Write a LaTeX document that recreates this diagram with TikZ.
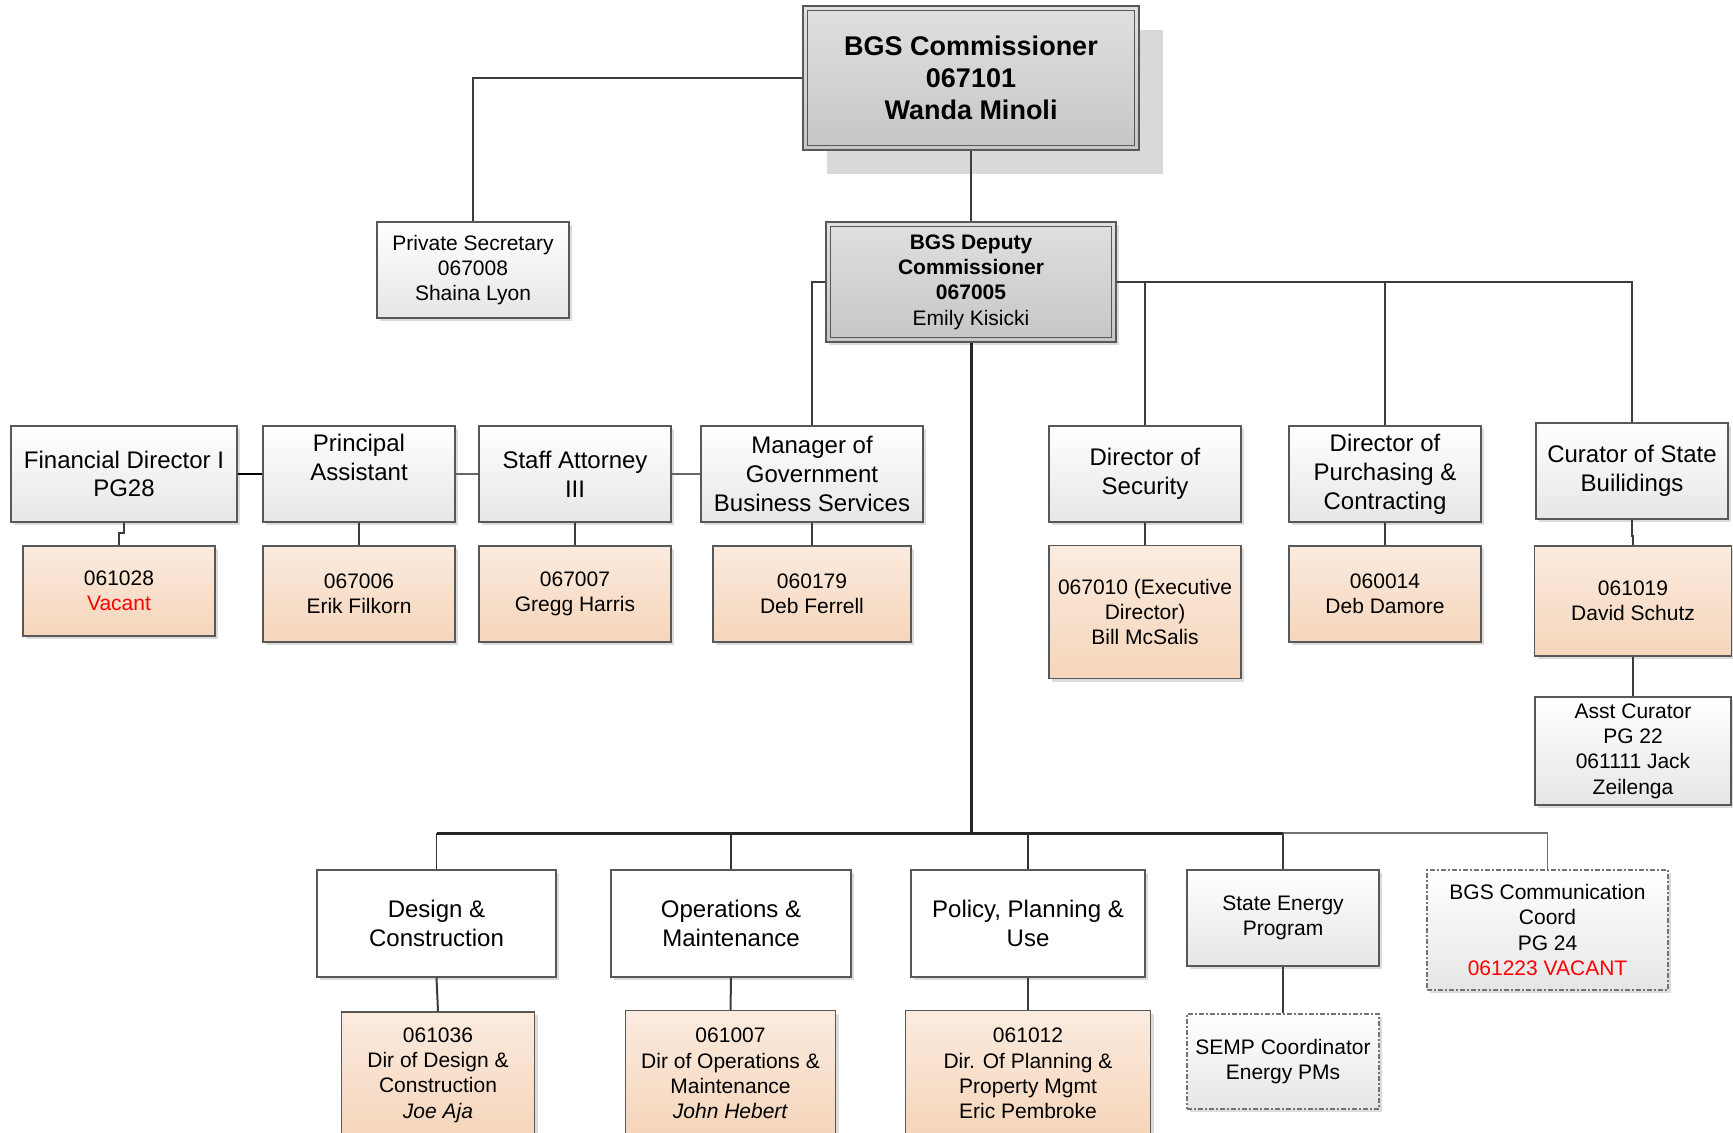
\documentclass[tikz,border=0pt]{standalone}
\usepackage{fontspec}
\setmainfont{Liberation Sans}
\usetikzlibrary{shadows}

\definecolor{lineclr}{HTML}{3C3C3C}
\definecolor{boxedge}{HTML}{585858}
\definecolor{peachtop}{HTML}{FBEBDF}
\definecolor{peachbot}{HTML}{F5D5BA}
\definecolor{greybot}{HTML}{E6E6E6}
\definecolor{headtop}{HTML}{E0E0E0}
\definecolor{headbot}{HTML}{C6C6C6}
\definecolor{bigshade}{HTML}{D9D9D9}
\definecolor{vacred}{HTML}{FF0000}

\tikzset{
  sz/.style 2 args={minimum width=#1*0.5pt, minimum height=#2*0.5pt},
  softshadow/.style={drop shadow={shadow xshift=1.6pt, shadow yshift=-1.6pt, fill=black!30, opacity=.45}},
  base/.style={draw=boxedge, line width=0.7pt, align=center, inner sep=1pt, text=black},
  bigfont/.style={font=\fontsize{12}{14.4}\selectfont},
  smallfont/.style={font=\fontsize{10.5}{12.7}\selectfont},
  posbox/.style={base, softshadow, top color=white, bottom color=greybot, bigfont},
  infobox/.style={base, softshadow, top color=white, bottom color=greybot, smallfont},
  personbox/.style={base, softshadow, top color=peachtop, bottom color=peachbot, smallfont},
  unitbox/.style={base, softshadow, fill=white, bigfont},
  headbox/.style={base, top color=headtop, bottom color=headbot},
  openbox/.style={infobox, draw=black!55, line width=0.6pt,
    dash pattern=on 2.5pt off 1.2pt on 0.6pt off 1.2pt},
  conn/.style={draw=lineclr, line width=1pt},
  thinconn/.style={draw=black!60, line width=0.6pt},
  trunk/.style={draw=black!85, line width=1.5pt},
}

\begin{document}
\begin{tikzpicture}[x=0.5pt,y=-0.5pt]
\useasboundingbox (0,0) rectangle (1733,1133);

% ---- top level ----
\node[headbox, sz={336}{144},
      drop shadow={shadow xshift=12pt, shadow yshift=-12pt, fill=bigshade, opacity=1},
      font=\fontsize{13.5}{16}\selectfont\bfseries] (comm) at (971,78)
  {BGS Commissioner\\067101\\Wanda Minoli};
\draw[boxedge, line width=0.7pt] ([shift={(5,5)}]comm.north west) rectangle ([shift={(-5,-5)}]comm.south east);

\node[infobox, sz={192}{96}] (priv) at (473,270) {Private Secretary\\067008\\Shaina Lyon};

\node[headbox, softshadow, sz={290}{120}, smallfont] (dep) at (971,282)
  {\textbf{BGS Deputy}\\\textbf{Commissioner}\\\textbf{067005}\\Emily Kisicki};
\draw[boxedge, line width=0.7pt] ([shift={(5,5)}]dep.north west) rectangle ([shift={(-5,-5)}]dep.south east);

% ---- directors row ----
\node[posbox, sz={226}{96}] (fin) at (124,474) {Financial Director I\\PG28};
\node[posbox, sz={192}{96}] (pa)  at (359,474) {Principal\\Assistant\\[2pt]};
\node[posbox, sz={192}{96}] (sa)  at (575,474) {Staff Attorney\\III};
\node[posbox, sz={222}{96}] (mgr) at (812,474) {Manager of\\Government\\Business Services};
\node[posbox, sz={192}{96}] (sec) at (1145,474) {Director of\\Security};
\node[posbox, sz={192}{96}] (pur) at (1385,474) {Director of\\Purchasing \&\\Contracting};
\node[posbox, sz={192}{96}] (cur) at (1632,471) {Curator of State\\Builidings};

% ---- incumbents ----
\node[personbox, sz={192}{90}]  (vac)     at (119,591)  {061028\\\textcolor{vacred}{Vacant}};
\node[personbox, sz={192}{96}]  (erik)    at (359,594)  {067006\\Erik Filkorn};
\node[personbox, sz={192}{96}]  (gregg)   at (575,594)  {067007\\Gregg Harris};
\node[personbox, sz={198}{96}]  (ferrell) at (812,594)  {060179\\Deb Ferrell};
\node[personbox, sz={192}{133}] (bill)    at (1145,612) {067010 (Executive\\Director)\\Bill McSalis};
\node[personbox, sz={192}{96}]  (damore)  at (1385,594) {060014\\Deb Damore};
\node[personbox, sz={197}{110}] (schutz)  at (1633,601) {061019\\David Schutz};
\node[infobox,   sz={196}{108}] (asst)    at (1633,751) {Asst Curator\\PG 22\\061111 Jack\\Zeilenga};

% ---- divisions ----
\node[unitbox, sz={239}{107}] (des)  at (436.5,923.5) {Design \&\\Construction};
\node[unitbox, sz={240}{107}] (ops)  at (731,923.5)   {Operations \&\\Maintenance};
\node[unitbox, sz={234}{107}] (pol)  at (1028,923.5)  {Policy, Planning \&\\Use};
\node[infobox, sz={192}{96}]  (sep)  at (1283,918)    {State Energy\\Program};
\node[openbox, sz={241}{120}] (bgsc) at (1547.5,930)  {BGS Communication\\Coord\\PG 24\\\textcolor{vacred}{061223 VACANT}};

\node[personbox, sz={193}{126}] (joe)  at (438,1075)   {061036\\Dir of Design \&\\Construction\\\textit{Joe Aja}};
\node[personbox, sz={210}{126}] (heb)  at (730.5,1073.5) {061007\\Dir of Operations \&\\Maintenance\\\textit{John Hebert}};
\node[personbox, sz={245}{126}] (pem)  at (1028,1073.5)  {061012\\Dir. Of Planning \&\\Property Mgmt\\Eric Pembroke};
\node[openbox,   sz={192}{95}]  (semp) at (1283,1061.5) {SEMP Coordinator\\Energy PMs};

% ---- connectors: top ----
\draw[conn] (comm.west) -| (priv.north);
\draw[conn] (comm.south) -- (dep.north);
\draw[conn] (dep.west) -| (mgr.north);
\draw[conn] (dep.east) -| (cur.north);
\draw[conn] (sec.north |- dep.east) -- (sec.north);
\draw[conn] (pur.north |- dep.east) -- (pur.north);

% staff chain on the left
\draw[conn, draw=black] (fin.east) -- (pa.west);
\draw[thinconn] (pa.east) -- (sa.west);
\draw[thinconn] (sa.east) -- (mgr.west);

% positions to incumbents
\draw[conn] (fin.south) -- ++(0,10) -| (vac.north);
\draw[conn] (pa.south) -- (erik.north);
\draw[conn] (sa.south) -- (gregg.north);
\draw[conn] (mgr.south) -- (ferrell.north);
\draw[conn] (sec.south) -- (bill.north);
\draw[conn] (pur.south) -- (damore.north);
\draw[conn] (cur.south) -- ++(0,16) -| (schutz.north);
\draw[conn] (schutz.south) -- (asst.north);

% ---- connectors: divisions ----
\coordinate (hub) at (971,833);
\draw[trunk] (dep.south) -- (hub);
\draw[trunk] (des.north |- hub) -- (sep.north |- hub);
\draw[thinconn, draw=black!55] (sep.north |- hub) -- (bgsc.north |- hub) -- (bgsc.north);
\draw[thinconn, draw=black!80, line width=0.7pt] (des.north |- hub) -- (des.north);
\draw[thinconn, draw=black!80, line width=0.7pt] (ops.north |- hub) -- (ops.north);
\draw[thinconn, draw=black!80, line width=0.7pt] (pol.north |- hub) -- (pol.north);
\draw[conn] (sep.north |- hub) -- (sep.north);

\draw[conn] (des.south) -- (joe.north);
\draw[conn] (ops.south) -- (heb.north);
\draw[conn] (pol.south) -- (pem.north);
\draw[conn] (sep.south) -- (semp.north);
\end{tikzpicture}
\end{document}
